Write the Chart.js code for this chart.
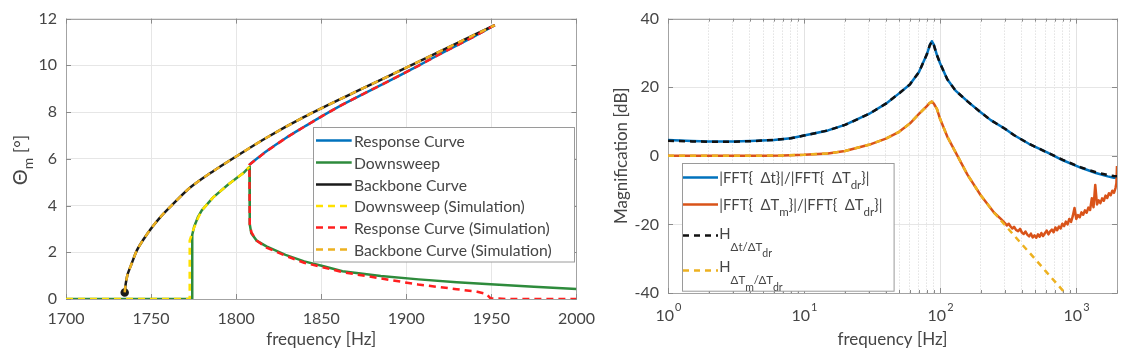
<!DOCTYPE html>
<html>
<head>
<meta charset="utf-8">
<script src="https://cdn.jsdelivr.net/npm/chart.js@4.4.1/dist/chart.umd.min.js"></script>
<style>
  html, body { margin: 0; padding: 0; background: #fff; }
  #wrap { position: relative; width: 1124px; height: 360px; }
  #left { position: absolute; left: 0; top: 0; }
  #right { position: absolute; left: 605px; top: 0; }
</style>
</head>
<body>
<div id="wrap">
  <canvas id="left" width="605" height="360"></canvas>
  <canvas id="right" width="519" height="360"></canvas>
</div>
<script>
// ---- left panel: amplitude vs frequency ----
const leftXTicks = [1700, 1750, 1800, 1850, 1900, 1950, 2000];
const leftYTicks = [0, 2, 4, 6, 8, 10, 12];
const leftLabels = ['Response Curve', 'Downsweep', 'Backbone Curve',
  'Downsweep (Simulation)', 'Response Curve (Simulation)', 'Backbone Curve (Simulation)'];

const responseFreq = [1807.8, 1818, 1829, 1840, 1851, 1862.5, 1874, 1885, 1896, 1907, 1918, 1930, 1941, 1952];
const responseDeg  = [5.75, 6.33, 6.88, 7.37, 7.85, 8.32, 8.75, 9.15, 9.56, 9.98, 10.41, 10.86, 11.28, 11.72];

const downFreq = [1700, 1774.2, 1774.2, 1775.3, 1777.5, 1779.8, 1786.5, 1795.5, 1804.4, 1807.8, 1808, 1808.9,
  1812, 1817.8, 1829, 1840, 1851.4, 1862.5, 1885, 1907.3, 1929.6, 1952, 1975, 2000];
const downDeg  = [0, 0, 2.75, 3.09, 3.5, 3.79, 4.35, 4.91, 5.4, 5.66, 3.2, 2.81,
  2.5, 2.25, 1.89, 1.61, 1.4, 1.19, 0.98, 0.84, 0.72, 0.62, 0.52, 0.43];

const backboneFreq = [1734.5, 1735, 1736.2, 1738.5, 1741.8, 1746, 1750.8, 1756, 1762, 1773, 1786.5,
  1800, 1817.8, 1840, 1862.5, 1885, 1907, 1929.6, 1952];
const backboneDeg  = [0.28, 0.6, 1.05, 1.5, 2.1, 2.6, 3.09, 3.55, 4.0, 4.77, 5.47,
  6.1, 6.9, 7.79, 8.6, 9.38, 10.15, 10.94, 11.72];

const downSimFreq = [1700, 1772.7, 1772.7, 1775, 1777.5, 1779.8, 1786.5, 1795.5, 1804.4, 1807.8];
const downSimDeg  = [0, 0, 2.5, 3.0, 3.45, 3.79, 4.35, 4.91, 5.4, 5.66];

const respSimFreq = [1952, 1941, 1930, 1918, 1907, 1896, 1885, 1874, 1862.5, 1851, 1840, 1829, 1818, 1807.8,
  1808, 1809, 1812, 1817.8, 1829, 1840, 1851.4, 1862.5, 1885, 1907, 1929.6, 1941.7, 1947, 1949.5, 1960, 2000];
const respSimDeg  = [11.72, 11.28, 10.86, 10.41, 9.98, 9.56, 9.15, 8.75, 8.32, 7.85, 7.37, 6.88, 6.33, 5.75,
  3.2, 2.85, 2.5, 2.2, 1.85, 1.55, 1.35, 1.15, 0.88, 0.62, 0.42, 0.31, 0.22, 0.03, 0, 0];

const backboneSimFreq = [1734.5, 1735, 1736.2, 1738.5, 1741.8, 1746, 1750.8, 1756, 1762, 1773, 1786.5,
  1800, 1817.8, 1840, 1862.5, 1885, 1907, 1929.6, 1952];
const backboneSimDeg  = [0.28, 0.6, 1.05, 1.5, 2.1, 2.6, 3.09, 3.55, 4.0, 4.77, 5.47,
  6.1, 6.9, 7.79, 8.6, 9.38, 10.15, 10.94, 11.72];

// ---- right panel: magnification vs frequency (log) ----
const rightXTicks = [1, 10, 100, 1000];
const rightYTicks = [-40, -20, 0, 20, 40];
// legend text as runs: [text, subscript level]
const rightLabels = [
  [['|FFT{  Δt}|/|FFT{  ΔT', 0], ['dr', 1], ['}|', 0]],
  [['|FFT{  ΔT', 0], ['m', 1], ['}|/|FFT{  ΔT', 0], ['dr', 1], ['}|', 0]],
  [['H', 0], ['Δt/ΔT', 2], ['dr', 3]],
  [['H', 0], ['ΔT', 2], ['m', 3], ['/ΔT', 2], ['dr', 3]]
];

const blueFreq = [1, 1.5, 2, 3, 4, 6, 8, 10, 15, 20, 30, 40, 50, 60, 70, 80, 84, 87, 90, 95, 100,
  113, 130, 160, 200, 236, 300, 351, 450, 618, 800, 1089, 1400, 1710, 1900, 2000];
const blueDb = [4.6, 4.3, 4.15, 4.15, 4.3, 4.6, 5.1, 5.9, 7.4, 9.0, 12.2, 15.2, 18.2, 20.8, 24.4, 29.6, 32.2, 33.4, 32.4, 29.3, 27.0,
  22.3, 19.0, 15.8, 12.6, 10.4, 7.9, 6.0, 3.5, 0.9, -1.3, -3.5, -5.0, -6.0, -6.4, -6.3];

const orangeFreq = [1, 2, 3, 5, 7, 10, 15, 20, 30, 40, 50, 60, 70, 80, 84, 87, 90, 95, 100, 113, 127, 159, 199, 250, 280,
  300, 310, 320, 330, 340, 350, 362, 375, 388, 400, 412, 425, 438, 452, 466, 480, 495, 510, 525, 540,
  556, 572, 590, 608, 626, 645, 664, 684, 705, 726, 748, 770, 793, 817, 841, 866, 892, 919, 946, 974,
  1003, 1033, 1064, 1096, 1128, 1162, 1196, 1232, 1268, 1306, 1344, 1384, 1425, 1467, 1510, 1555, 1600,
  1647, 1695, 1745, 1796, 1848, 1900, 1950, 1980, 2000];
const orangeDb = [0, 0, 0, 0.05, 0.1, 0.3, 0.7, 1.4, 3.2, 5.0, 7.0, 9.4, 12.2, 14.5, 15.4, 15.8, 15.2, 13.6, 10.8, 5.6, 1.8, -5.5, -11.5, -16.6, -18.4,
  -19.6, -20.3, -19.8, -20.6, -21.2, -20.7, -21.6, -22.0, -21.3, -22.4, -22.8, -22.1, -23.0, -23.5, -22.7, -23.8, -23.2, -23.9, -22.9, -23.6,
  -22.5, -23.4, -22.6, -21.8, -22.9, -22.0, -21.5, -22.3, -20.9, -21.7, -20.6, -21.2, -19.8, -20.5, -19.2, -20.0, -18.4, -19.3, -17.6, -15.2,
  -18.4, -17.3, -17.9, -16.5, -17.2, -15.9, -16.6, -15.1, -15.8, -12.4, -15.0, -8.5, -14.2, -13.0, -13.8, -12.4, -13.1,
  -11.6, -12.3, -10.9, -11.5, -10.2, -10.8, -9.4, -8.0, -3.0];

const blackFreq = [1, 1.5, 2, 3, 4, 6, 8, 10, 15, 20, 30, 40, 50, 60, 70, 80, 84, 87, 90, 95, 100,
  113, 130, 160, 200, 236, 300, 351, 450, 618, 800, 1089, 1400, 1710, 1900, 2000];
const blackDb = [4.4, 4.2, 4.1, 4.1, 4.25, 4.6, 5.1, 5.9, 7.4, 9.0, 12.2, 15.2, 18.2, 20.8, 24.4, 29.6, 32.2, 33.3, 32.3, 29.3, 27.0,
  22.3, 19.0, 15.8, 12.6, 10.4, 7.9, 6.0, 3.5, 0.9, -1.2, -3.4, -4.8, -5.6, -5.9, -6.0];

const goldFreq = [1, 2, 3, 5, 7, 10, 15, 20, 30, 40, 50, 60, 70, 80, 84, 87, 90, 95, 100, 113, 127, 159, 199, 250,
  300, 400, 500, 600, 700, 800, 825];
const goldDb = [0, 0, 0, 0.05, 0.1, 0.3, 0.7, 1.4, 3.2, 5.0, 7.0, 9.4, 12.2, 14.5, 15.4, 15.8, 15.2, 13.6, 10.8, 5.6, 1.8, -5.5, -11.5, -16.6,
  -20.2, -25.8, -30.1, -33.7, -36.7, -39.3, -40];

const FONT = 'Lato, "Noto Sans", sans-serif';
const TEXT = '#454545';
Chart.defaults.font.family = FONT;
Chart.defaults.color = TEXT;

const pts = (xs, ys) => xs.map((x, i) => ({ x: x, y: ys[i] }));
const line = (data, color, width, dash, order, tension) => ({
  data: data, showLine: true, borderColor: color, backgroundColor: color, borderWidth: width,
  borderDash: dash, pointRadius: 0, tension: tension || 0, order: order, borderJoinStyle: 'round'
});

// box round the axes with small inward ticks, as MATLAB draws it
const framePlugin = {
  id: 'frame',
  beforeDatasetsDraw(chart) {
    const { ctx, chartArea: a, scales } = chart;
    ctx.save();
    ctx.strokeStyle = '#a3a3a3';
    ctx.lineWidth = 1;
    ctx.strokeRect(Math.round(a.left) + 0.5, Math.round(a.top) + 0.5,
      Math.round(a.right - a.left), Math.round(a.bottom - a.top));
    ctx.strokeStyle = '#8a8a8a';
    ctx.beginPath();
    scales.x.ticks.forEach(t => {
      const px = Math.round(scales.x.getPixelForValue(t.value)) + 0.5;
      const major = scales.x.type !== 'logarithmic' || Math.abs(Math.log10(t.value) % 1) < 1e-9;
      const len = major ? 5 : 3;
      ctx.moveTo(px, a.bottom); ctx.lineTo(px, a.bottom - len);
      ctx.moveTo(px, a.top); ctx.lineTo(px, a.top + len);
    });
    scales.y.ticks.forEach(t => {
      const py = Math.round(scales.y.getPixelForValue(t.value)) + 0.5;
      ctx.moveTo(a.left, py); ctx.lineTo(a.left + 5, py);
      ctx.moveTo(a.right, py); ctx.lineTo(a.right - 5, py);
    });
    ctx.stroke();
    ctx.restore();
  }
};

// legend inside the plot, with subscripts
const boxLegend = {
  id: 'boxLegend',
  afterDraw(chart, args, o) {
    const { ctx, chartArea: a } = chart;
    const bx = Math.round(a.left + o.box[0]) + 0.5, by = Math.round(a.top + o.box[1]) + 0.5;
    ctx.save();
    ctx.fillStyle = '#fff';
    ctx.fillRect(bx, by, o.box[2], o.box[3]);
    ctx.strokeStyle = '#9a9a9a';
    ctx.lineWidth = 1;
    ctx.strokeRect(bx, by, o.box[2], o.box[3]);
    o.rows.forEach((ry, i) => {
      const ds = chart.data.datasets[i];
      const y = a.top + ry;
      ctx.beginPath();
      ctx.setLineDash(ds.borderDash || []);
      ctx.strokeStyle = ds.borderColor;
      ctx.lineWidth = ds.borderWidth;
      ctx.moveTo(a.left + o.sample[0], y);
      ctx.lineTo(a.left + o.sample[1], y);
      ctx.stroke();
      ctx.setLineDash([]);
      let x = a.left + o.textX;
      ctx.fillStyle = TEXT;
      ctx.textBaseline = 'alphabetic';
      o.labels[i].forEach(r => {
        const lv = r[1];
        ctx.font = o.sizes[lv] + 'px ' + FONT;
        ctx.fillText(r[0], x, y + o.baseline[i] + o.dy[lv]);
        x += ctx.measureText(r[0]).width;
      });
    });
    ctx.restore();
  }
};

// y title of the left panel: Theta with subscript m
const thetaTitle = {
  id: 'thetaTitle',
  afterDraw(chart) {
    const ctx = chart.ctx;
    const runs = [['Θ', 20, 0], ['m', 14, 6], [' [°]', 18, 0]];
    ctx.save();
    ctx.translate(27, 160);
    ctx.rotate(-Math.PI / 2);
    ctx.fillStyle = TEXT;
    ctx.textBaseline = 'alphabetic';
    let w = 0;
    runs.forEach(r => { ctx.font = r[1] + 'px ' + FONT; w += ctx.measureText(r[0]).width; });
    let x = -w / 2;
    runs.forEach(r => {
      ctx.font = r[1] + 'px ' + FONT;
      ctx.fillText(r[0], x, r[2]);
      x += ctx.measureText(r[0]).width;
    });
    ctx.restore();
  }
};

// 10^n tick labels of the log axis
const powerTicks = {
  id: 'powerTicks',
  afterDraw(chart) {
    const ctx = chart.ctx, sx = chart.scales.x;
    ctx.save();
    ctx.fillStyle = TEXT;
    ctx.textBaseline = 'middle';
    rightXTicks.forEach(v => {
      const exp = String(Math.round(Math.log10(v)));
      ctx.font = '16px ' + FONT;
      const wb = ctx.measureText('10').width;
      ctx.font = '11px ' + FONT;
      const we = ctx.measureText(exp).width;
      const x0 = sx.getPixelForValue(v) - (wb + we) / 2;
      ctx.font = '16px ' + FONT;
      ctx.fillText('10', x0, 316);
      ctx.font = '11px ' + FONT;
      ctx.fillText(exp, x0 + wb + 1, 307);
    });
    ctx.restore();
  }
};

new Chart(document.getElementById('left'), {
  type: 'scatter',
  data: {
    datasets: [
      line(pts(responseFreq, responseDeg), '#0072bd', 2.5, [], 5, 0.3),
      line(pts(downFreq, downDeg), '#2e8b3c', 2.5, [], 4),
      Object.assign(line(pts(backboneFreq, backboneDeg), '#1a1a1a', 2.5, [], 3, 0.3), {
        pointRadius: c => c.dataIndex === 0 ? 3 : 0
      }),
      line(pts(downSimFreq, downSimDeg), '#ffe100', 2.5, [7, 5], 2),
      line(pts(respSimFreq, respSimDeg), '#ff1f1f', 2.5, [7, 5], 1),
      line(pts(backboneSimFreq, backboneSimDeg), '#edb120', 2.5, [7, 5], 0, 0.3)
    ]
  },
  options: {
    responsive: false,
    animation: false,
    layout: { padding: { left: 0, top: 15, right: 25, bottom: 0 } },
    plugins: {
      legend: { display: false },
      tooltip: { enabled: false },
      boxLegend: {
        box: [246.7, 108.3, 261, 134.5],
        rows: [122, 144, 166, 187.5, 209, 231],
        sample: [250, 285.7],
        textX: 288,
        baseline: [6, 6, 6, 6, 6, 6],
        sizes: [15.7],
        dy: [0],
        labels: leftLabels.map(t => [[t, 0]])
      }
    },
    scales: {
      x: {
        type: 'linear', min: 1700, max: 2000,
        afterBuildTicks: s => { s.ticks = leftXTicks.map(v => ({ value: v })); },
        afterFit: s => { s.height = 61; },
        ticks: { font: { size: 16 }, padding: 10, callback: v => String(v) },
        grid: { color: '#e6e6e6', drawTicks: false },
        border: { display: false },
        title: { display: true, text: 'frequency [Hz]', font: { size: 17 }, padding: { top: 0, bottom: 10 } }
      },
      y: {
        type: 'linear', min: 0, max: 12,
        afterBuildTicks: s => { s.ticks = leftYTicks.map(v => ({ value: v })); },
        afterFit: s => { s.width = 66; },
        ticks: { font: { size: 16 }, padding: 9, callback: v => String(v) },
        grid: { color: '#e6e6e6', drawTicks: false },
        border: { display: false }
      }
    }
  },
  plugins: [framePlugin, boxLegend, thetaTitle]
});

const rightGrid = [];
[1, 10, 100, 1000].forEach(d => {
  for (let m = 1; m <= 9; m++) if (m * d <= 2000) rightGrid.push(m * d);
});
const isDecade = v => Math.abs(Math.log10(v) - Math.round(Math.log10(v))) < 1e-9;

new Chart(document.getElementById('right'), {
  type: 'scatter',
  data: {
    datasets: [
      line(pts(blueFreq, blueDb), '#0072bd', 2.5, [], 4),
      line(pts(orangeFreq, orangeDb), '#d95319', 2.5, [], 3),
      line(pts(blackFreq, blackDb), '#111111', 2.5, [6, 5], 2),
      line(pts(goldFreq, goldDb), '#edb120', 2.5, [6, 5], 1)
    ]
  },
  options: {
    responsive: false,
    animation: false,
    layout: { padding: { left: 0, top: 15, right: 7, bottom: 0 } },
    plugins: {
      legend: { display: false },
      tooltip: { enabled: false },
      boxLegend: {
        box: [13.7, 144, 211.6, 127.7],
        rows: [159, 186, 217, 252],
        sample: [15, 50],
        textX: 51.3,
        baseline: [5, 5, 3, 1.5],
        sizes: [14.8, 11.5, 11.5, 10.5],
        dy: [0, 6.5, 12, 18.5],
        labels: rightLabels
      }
    },
    scales: {
      x: {
        type: 'logarithmic', min: 1, max: 2000,
        afterBuildTicks: s => { s.ticks = rightGrid.map(v => ({ value: v })); },
        afterFit: s => { s.height = 67; },
        ticks: { display: false },
        grid: {
          drawTicks: false,
          color: c => isDecade(c.tick.value) ? '#e2e2e2' : '#d4d4d4'
        },
        border: { display: false, dash: c => isDecade(c.tick.value) ? [] : [1, 2] },
        title: { display: true, text: 'frequency [Hz]', font: { size: 17 }, padding: { top: 0, bottom: 10 } }
      },
      y: {
        type: 'linear', min: -40, max: 40,
        afterBuildTicks: s => { s.ticks = rightYTicks.map(v => ({ value: v })); },
        afterFit: s => { s.width = 63; },
        ticks: { font: { size: 16 }, padding: 9, callback: v => String(v) },
        grid: { color: '#e6e6e6', drawTicks: false },
        border: { display: false },
        title: { display: true, text: 'Magnification [dB]', font: { size: 17 }, padding: { top: 6, bottom: 0 } }
      }
    }
  },
  plugins: [framePlugin, boxLegend, powerTicks]
});
</script>
</body>
</html>
